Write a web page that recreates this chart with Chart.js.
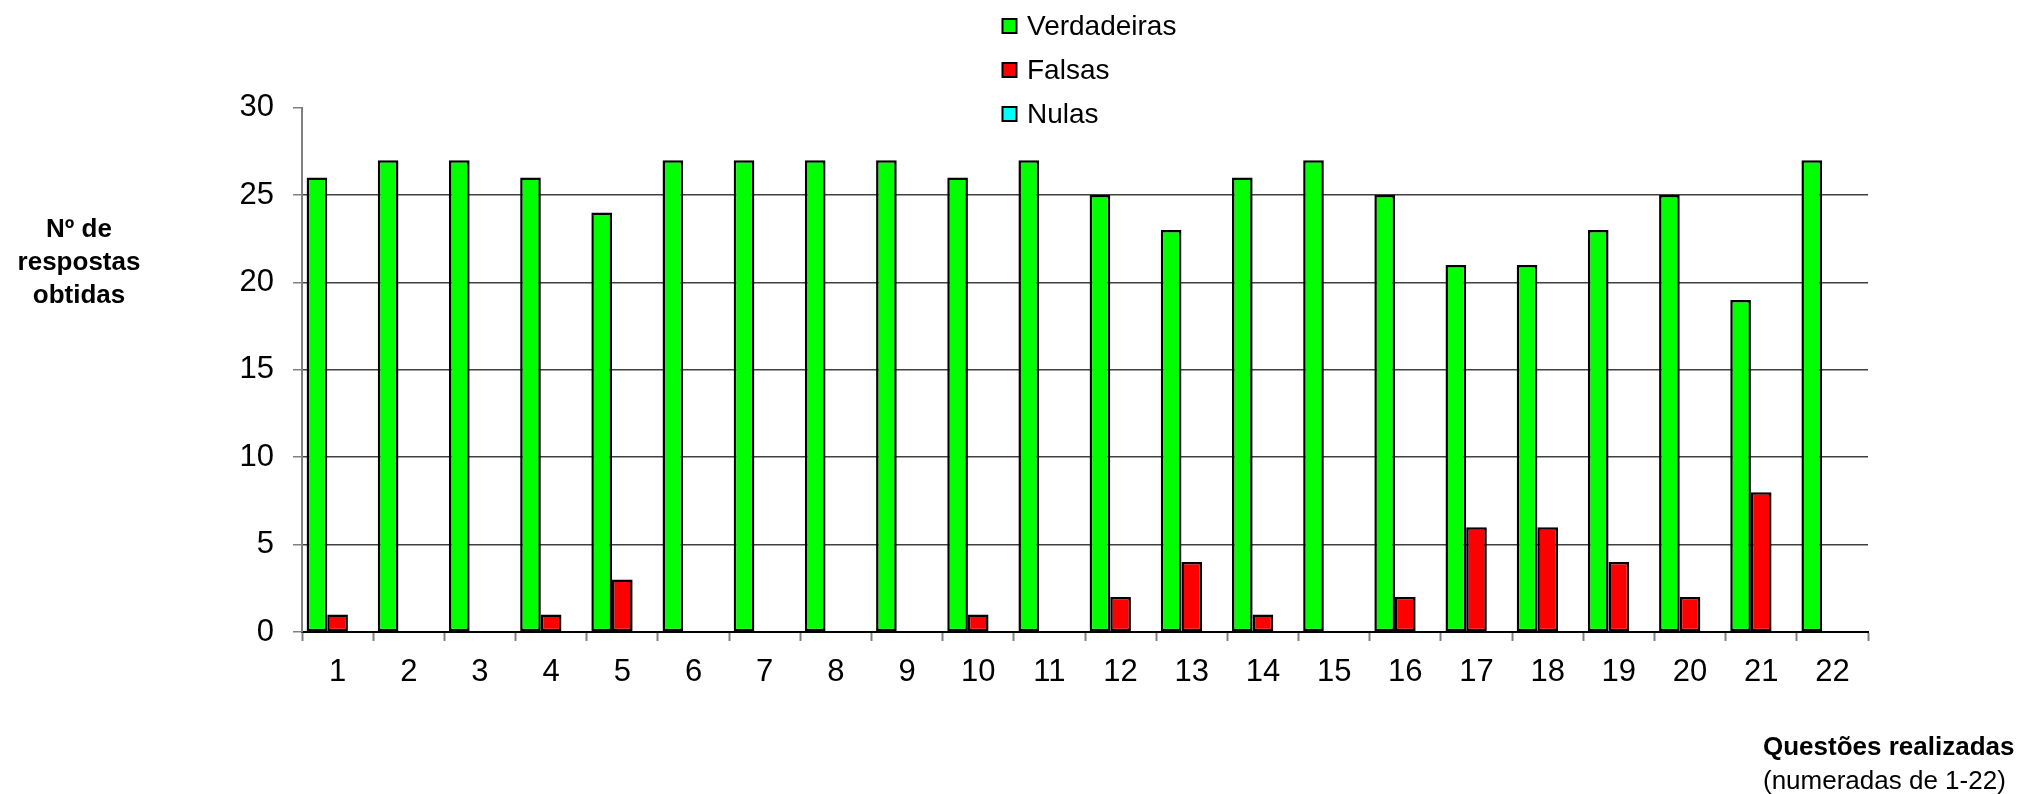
<!DOCTYPE html>
<html lang="pt">
<head>
<meta charset="utf-8">
<title>Respostas por questão</title>
<script src="https://cdn.jsdelivr.net/npm/chart.js@4/dist/chart.umd.min.js"></script>
<style>
  html, body { margin: 0; padding: 0; background: #ffffff; }
  #wrap { position: relative; width: 2026px; height: 794px; }
</style>
</head>
<body>
<div id="wrap"><canvas id="grafico"></canvas></div>
<script>
// Questões 1-22 e número de respostas de cada tipo
const questoes = ['1','2','3','4','5','6','7','8','9','10','11','12','13','14','15','16','17','18','19','20','21','22'];
const verdadeiras = [26, 27, 27, 26, 24, 27, 27, 27, 27, 26, 27, 25, 23, 26, 27, 25, 21, 21, 23, 25, 19, 27];
const falsas      = [1, 0, 0, 1, 3, 0, 0, 0, 0, 1, 0, 2, 4, 1, 0, 2, 6, 6, 4, 2, 8, 0];
const nulas       = [0, 0, 0, 0, 0, 0, 0, 0, 0, 0, 0, 0, 0, 0, 0, 0, 0, 0, 0, 0, 0, 0];
const yTicks      = [0, 5, 10, 15, 20, 25, 30];

const tituloY = ['Nº de', 'respostas', 'obtidas'];
const tituloX = 'Questões realizadas';
const subtituloX = '(numeradas de 1-22)';

const FONTE = '"Liberation Sans", Arial, Helvetica, sans-serif';

// Legenda vertical com caixas coloridas
const legendaVertical = {
  id: 'legendaVertical',
  afterDraw(chart) {
    const ctx = chart.ctx;
    ctx.save();
    ctx.font = '28px ' + FONTE;
    ctx.textBaseline = 'middle';
    ctx.textAlign = 'left';
    chart.data.datasets.forEach((ds, i) => {
      const cy = 26 + i * 44;
      ctx.fillStyle = ds.backgroundColor;
      ctx.fillRect(1002.5, cy - 7, 14, 14);
      ctx.lineWidth = 2;
      ctx.strokeStyle = '#000000';
      ctx.strokeRect(1002.5, cy - 7, 14, 14);
      ctx.fillStyle = '#000000';
      ctx.fillText(ds.label, 1027, cy + 1);
    });
    ctx.restore();
  }
};

// Títulos dos eixos na horizontal
const titulosEixos = {
  id: 'titulosEixos',
  afterDraw(chart) {
    const ctx = chart.ctx;
    ctx.save();
    ctx.fillStyle = '#000000';
    ctx.textBaseline = 'alphabetic';
    ctx.font = 'bold 26px ' + FONTE;
    ctx.textAlign = 'center';
    tituloY.forEach((linha, i) => ctx.fillText(linha, 79, 237 + i * 33));
    ctx.textAlign = 'left';
    ctx.fillText(tituloX, 1763, 755);
    ctx.font = '26px ' + FONTE;
    ctx.fillText(subtituloX, 1763, 789);
    ctx.restore();
  }
};

new Chart(document.getElementById('grafico'), {
  type: 'bar',
  data: {
    labels: questoes,
    datasets: [
      { label: 'Verdadeiras', data: verdadeiras, backgroundColor: '#00ff00' },
      { label: 'Falsas', data: falsas, backgroundColor: '#ff0000' },
      { label: 'Nulas', data: nulas, backgroundColor: '#00ffff' }
    ]
  },
  options: {
    responsive: true,
    maintainAspectRatio: false,
    animation: false,
    devicePixelRatio: 1,
    layout: { padding: { left: 0, right: 158, top: 107.7, bottom: 0 } },
    datasets: {
      bar: {
        borderColor: '#000000',
        borderWidth: 2.5,
        borderSkipped: false,
        categoryPercentage: 0.87,
        barPercentage: 1.0
      }
    },
    plugins: {
      legend: { display: false },
      tooltip: { enabled: false }
    },
    scales: {
      x: {
        grid: {
          display: true,
          drawOnChartArea: false,
          drawTicks: true,
          tickLength: 9,
          tickColor: '#808080',
          tickWidth: 2,
          offset: true
        },
        border: { display: true, color: '#000000', width: 2 },
        ticks: {
          color: '#000000',
          font: { family: FONTE, size: 31 },
          padding: 13,
          maxRotation: 0,
          autoSkip: false
        },
        afterFit(scale) { scale.height = 162; }
      },
      y: {
        min: 0,
        max: 30,
        afterBuildTicks(scale) { scale.ticks = yTicks.map(v => ({ value: v })); },
        grid: {
          color: ctx => (ctx.tick && ctx.tick.value === 30) ? 'rgba(0,0,0,0)' : '#404040',
          lineWidth: 1.5,
          drawTicks: true,
          tickLength: 9,
          tickColor: '#808080',
          tickWidth: 1.5
        },
        border: { display: true, color: '#808080', width: 2 },
        ticks: {
          color: '#000000',
          font: { family: FONTE, size: 31 },
          padding: 19
        },
        afterFit(scale) { scale.width = 302; }
      }
    }
  },
  plugins: [legendaVertical, titulosEixos]
});
</script>
</body>
</html>
